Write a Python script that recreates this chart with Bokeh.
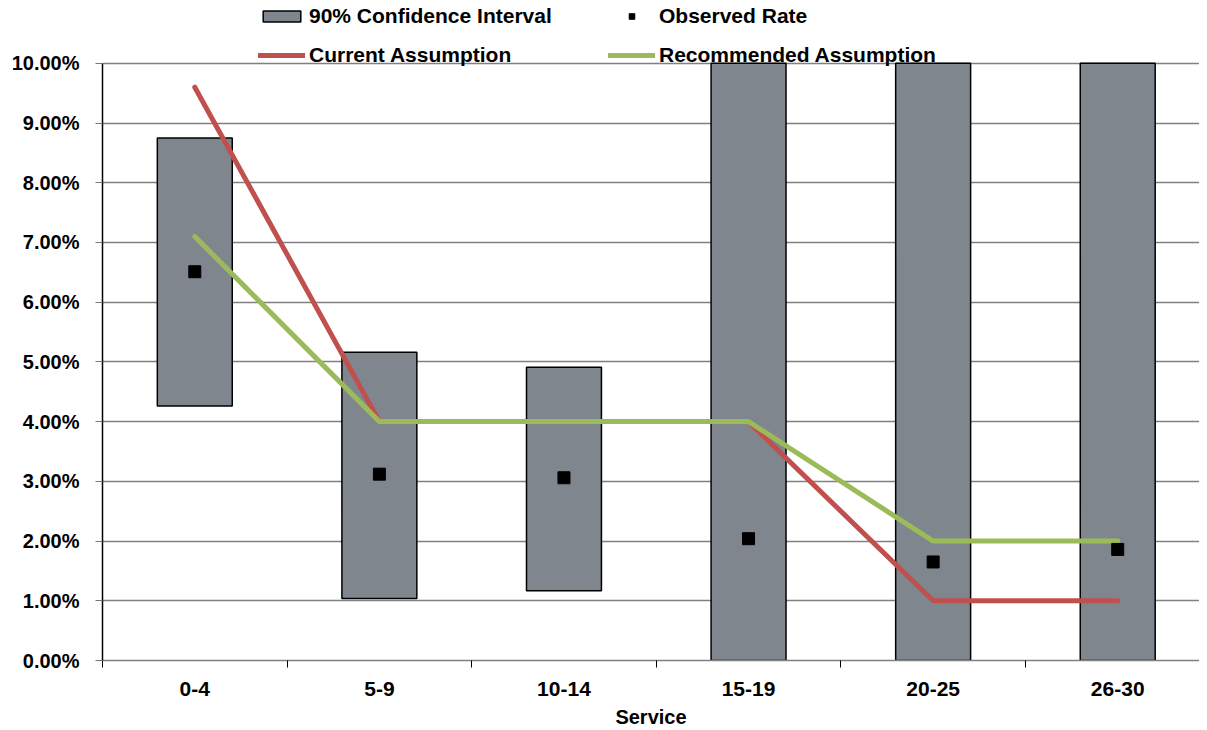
from bokeh.plotting import figure
from bokeh.models import (Range1d, FixedTicker, NumeralTickFormatter, Legend, LegendItem,
                          ColumnDataSource)
from bokeh.embed import file_html
from bokeh.resources import INLINE

categories = ["0-4", "5-9", "10-14", "15-19", "20-25", "26-30"]
ci_lower = [0.0426, 0.0104, 0.0117, 0.0, 0.0, 0.0]
ci_upper = [0.0875, 0.0516, 0.0491, 0.12, 0.12, 0.12]
observed = [0.0651, 0.0312, 0.0306, 0.0204, 0.0165, 0.0186]
current = [0.096, 0.040, 0.040, 0.040, 0.010, 0.010]
recommended = [0.071, 0.040, 0.040, 0.040, 0.020, 0.020]
y_ticks = [0.00, 0.01, 0.02, 0.03, 0.04, 0.05, 0.06, 0.07, 0.08, 0.09, 0.10]

Y_MAX = y_ticks[-1]
xs = [i + 0.5 for i in range(len(categories))]
bounds = [i for i in range(len(categories) + 1)]
shown_hi = [min(h, Y_MAX) for h in ci_upper]  # axis is cut at 10%

src = ColumnDataSource(dict(x=xs, cat=categories, lo=ci_lower, hi=shown_hi,
                            obs=observed, cur=current, rec=recommended))

FONT = "Liberation Sans"

# frame spans the full top so the legend (drawn in the frame) sits above the 10% line
p = figure(width=1199, height=730, output_backend="svg", toolbar_location=None,
           x_range=Range1d(0, 5.943), y_range=Range1d(0, Y_MAX * 662 / 599),
           min_border_left=102, min_border_right=0, min_border_top=0, min_border_bottom=68)
p.outline_line_color = None
p.background_fill_color = "white"

bars = p.vbar(x="x", bottom="lo", top="hi", width=0.406, source=src,
              fill_color="#7F868E", line_color="black", line_width=1.5)
cur_r = p.line(x="x", y="cur", source=src, line_color="#C0504D", line_width=5, line_cap="round",
               line_join="round")
rec_r = p.line(x="x", y="rec", source=src, line_color="#9BBB59", line_width=5, line_cap="round",
               line_join="round")
obs_r = p.scatter(x="x", y="obs", source=src, marker="square", size=12,
                  fill_color="black", line_color="black")

# y axis
p.yaxis.ticker = FixedTicker(ticks=y_ticks)
p.yaxis.bounds = (0, Y_MAX)
p.yaxis.formatter = NumeralTickFormatter(format="0.00%")
p.yaxis.major_label_text_font = FONT
p.yaxis.major_label_text_font_style = "bold"
p.yaxis.major_label_text_font_size = "20px"
p.yaxis.major_label_text_color = "black"
p.yaxis.major_tick_out = 7
p.yaxis.major_tick_in = 0
p.yaxis.minor_tick_out = 0
p.yaxis.minor_tick_in = 0
p.yaxis.axis_line_color = "black"
p.yaxis.axis_line_width = 1.5
p.yaxis.major_tick_line_color = "#777777"
p.yaxis.major_label_standoff = 16

# x axis
p.xaxis.ticker = FixedTicker(ticks=xs, minor_ticks=bounds)
p.xaxis.major_label_overrides = {x: c for x, c in zip(xs, categories)}
p.xaxis.major_label_text_font = FONT
p.xaxis.major_label_text_font_style = "bold"
p.xaxis.major_label_text_font_size = "21px"
p.xaxis.major_label_text_color = "black"
p.xaxis.major_tick_out = 0
p.xaxis.major_tick_in = 0
p.xaxis.minor_tick_out = 7
p.xaxis.minor_tick_in = 0
p.xaxis.minor_tick_line_color = "black"
p.xaxis.axis_line_color = "#808080"
p.xaxis.axis_line_width = 1.5
p.xaxis.major_label_standoff = 14
p.xaxis.axis_label = "Service"
p.xaxis.axis_label_text_font = FONT
p.xaxis.axis_label_text_font_style = "bold"
p.xaxis.axis_label_text_font_size = "20px"
p.xaxis.axis_label_text_color = "black"
p.xaxis.axis_label_standoff = 7

p.xgrid.grid_line_color = None
p.ygrid.ticker = FixedTicker(ticks=y_ticks)
p.ygrid.grid_line_color = "#808080"
p.ygrid.grid_line_width = 1.5

legend = Legend(items=[
    LegendItem(label="90% Confidence Interval", renderers=[bars]),
    LegendItem(label="Current Assumption", renderers=[cur_r]),
    LegendItem(label="Observed Rate", renderers=[obs_r]),
    LegendItem(label="Recommended Assumption", renderers=[rec_r]),
], location=(156, 593), orientation="vertical", ncols=2)
legend.label_text_font = FONT
legend.label_text_font_style = "bold"
legend.label_text_font_size = "21px"
legend.label_text_color = "black"
legend.border_line_alpha = 0
legend.background_fill_alpha = 0
legend.padding = 0
legend.margin = 0
legend.spacing = 15
legend.glyph_width = 47
legend.glyph_height = 14
legend.label_height = 22
legend.label_standoff = 4
legend.label_width = 284
p.add_layout(legend, "center")

open("out.html", "w").write(file_html(p, INLINE))
